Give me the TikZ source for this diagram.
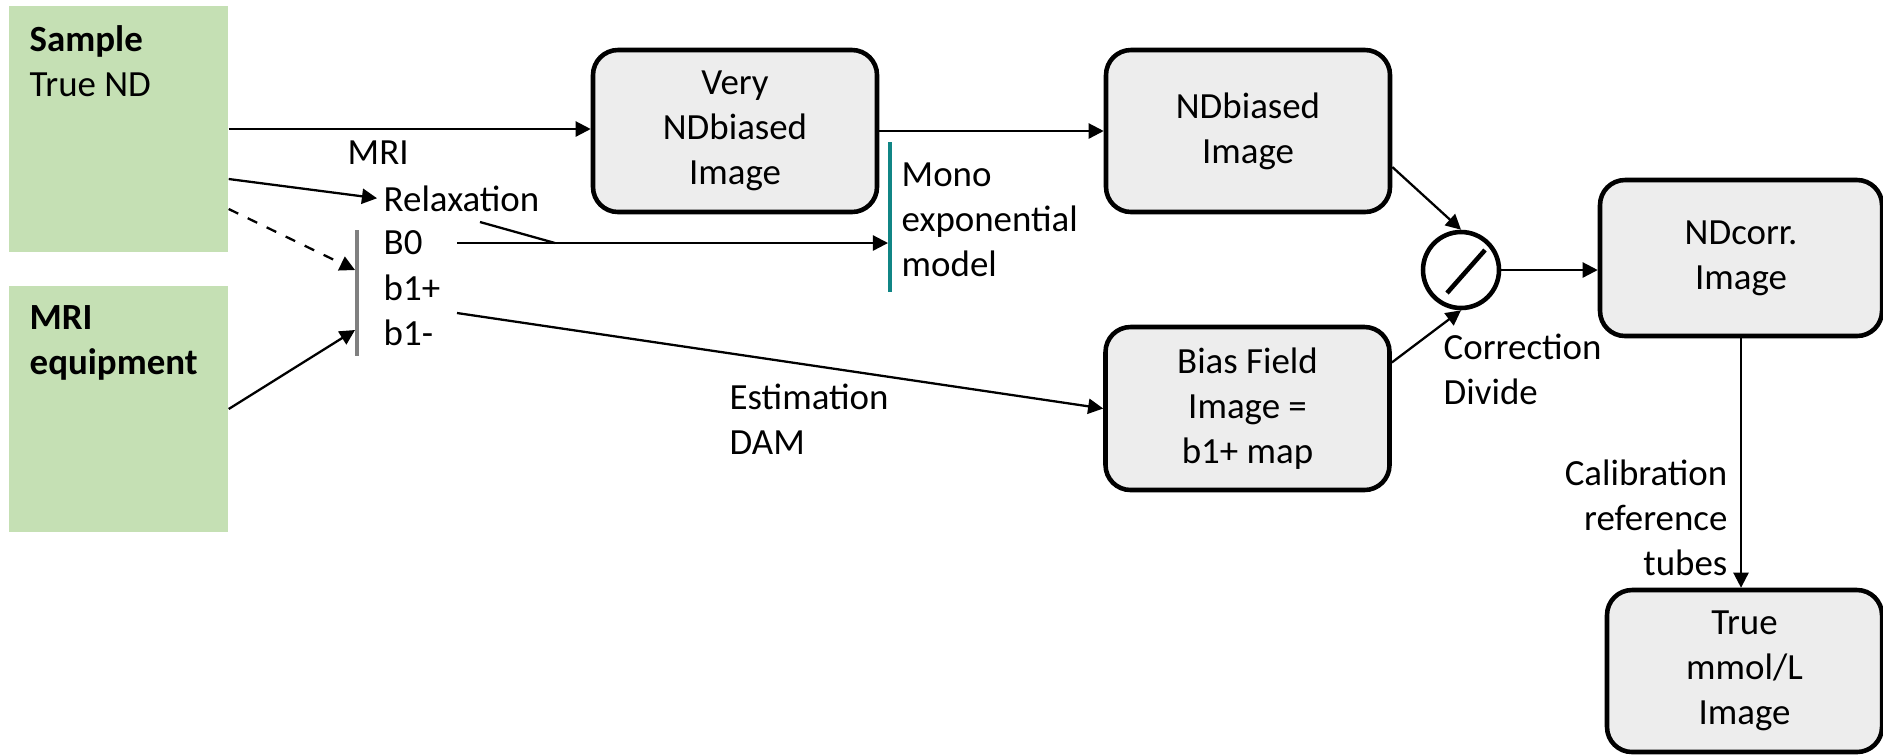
\documentclass[tikz,border=0pt]{standalone}
\usepackage{fontspec}
\setmainfont{Carlito}
\usetikzlibrary{arrows.meta}
\definecolor{srcgreen}{RGB}{197,224,180}
\definecolor{imggray}{RGB}{237,237,237}
\definecolor{bargray}{RGB}{128,128,128}
\definecolor{monoteal}{RGB}{16,133,133}

\begin{document}
\begin{tikzpicture}[
		every node/.style={font=\fontsize{10.5}{12.8}\selectfont, inner sep=0pt},
		srcbox/.style={rectangle, fill=srcgreen, minimum width=2.19cm, minimum height=2.46cm},
		imgbox/.style={rectangle, draw, rounded corners=0.25cm, line width=1.3pt, fill=imggray,
			minimum width=2.84cm, minimum height=1.62cm, align=center},
		lbl/.style={anchor=west, align=left},
		arr/.style={-{Triangle[length=4.3pt, width=4.3pt]}, line width=0.65pt}
	]
  \useasboundingbox (0cm, 0cm) rectangle (18.83cm, -7.55cm);
  \node (sample) [srcbox] at (1.185cm, -1.29cm) {};
  \node (sample_txt) [lbl] at (0.29cm, -0.61cm) {\textbf{Sample}\\True ND};
  \node (mriq) [srcbox] at (1.185cm, -4.09cm) {};
  \node (mriq_txt) [lbl] at (0.29cm, -3.43cm) {\textbf{MRI}\\\textbf{equipment}};
  \node (very) [imgbox] at (7.35cm, -1.31cm) {Very\\NDbiased\\Image\vphantom{p}};
  \node (ndb) [imgbox] at (12.48cm, -1.31cm) {NDbiased\\Image};
  \node (bias) [imgbox, minimum height=1.63cm] at (12.475cm, -4.085cm) {Bias Field\\Image =\\b1+ map};
  \node (ndc) [imgbox, minimum width=2.82cm, minimum height=1.56cm] at (17.41cm, -2.58cm) {NDcorr.\\Image};
  \node (tmm) [imgbox, minimum width=2.75cm] at (17.445cm, -6.71cm) {True\\mmol/L\\Image};
  \node (divc) [circle, draw, line width=1.3pt, minimum size=0.76cm] at (14.61cm, -2.70cm) {};
  \node (mri_lbl) [lbl] at (3.47cm, -1.53cm) {MRI};
  \node (relax) [lbl] at (3.83cm, -1.99cm) {Relaxation};
  \node (bzero) [lbl] at (3.83cm, -2.43cm) {B0};
  \node (bonep) [lbl] at (3.83cm, -2.88cm) {b1+};
  \node (bonem) [lbl] at (3.83cm, -3.33cm) {b1-};
  \node (mono) [lbl] at (9.01cm, -2.20cm) {Mono\\exponential\\model};
  \node (estim) [lbl] at (7.29cm, -4.19cm) {Estimation\\DAM};
  \node (corr) [lbl] at (14.43cm, -3.695cm) {Correction\\Divide};
  \node (calib) [anchor=east, align=right] at (17.28cm, -5.18cm) {Calibration\\reference\\tubes};
  \coordinate (bartop) at (3.57cm, -2.30cm);
  \coordinate (barbot) at (3.57cm, -3.56cm);
  \coordinate (bar_a) at (3.55cm, -2.70cm);
  \coordinate (bar_b) at (3.55cm, -3.30cm);
  \coordinate (monotop) at (8.90cm, -1.42cm);
  \coordinate (monobot) at (8.90cm, -2.92cm);
  \coordinate (mono_in) at (8.88cm, -2.43cm);
  \coordinate (b0_out) at (4.57cm, -2.43cm);
  \coordinate (rx_out) at (4.80cm, -2.22cm);
  \coordinate (rx_join) at (5.55cm, -2.43cm);
  \coordinate (bm_out) at (4.57cm, -3.13cm);
  \draw [bargray, line width=0.9pt] (bartop) -- (barbot);
  \draw [monoteal, line width=0.9pt] (monotop) -- (monobot);
  \draw [line width=1.3pt] ([shift={(-0.14cm, -0.23cm)}]divc.center) -- ([shift={(0.24cm, 0.20cm)}]divc.center);
  \draw [arr] (sample.east) -- (sample.east -| very.west);
  \draw [arr, shorten >=0.06cm] ([yshift=-0.5cm]sample.east) -- (relax.west);
  \draw [arr, dashed] ([yshift=-0.8cm]sample.east) -- (bar_a);
  \draw [arr] (mriq.east) -- (bar_b);
  \draw [line width=0.65pt] (rx_out) -- (rx_join);
  \draw [arr] (b0_out) -- (mono_in);
  \draw [arr] (bm_out) -- (bias.west);
  \draw [arr] (very.east) -- (ndb.west);
  \draw [arr] ([yshift=-0.36cm]ndb.east) -- (divc.north);
  \draw [arr] ([yshift=0.46cm]bias.east) -- (divc.south);
  \draw [arr] (divc.east) -- (divc.east -| ndc.west);
  \draw [arr] (ndc.south) -- (ndc.south |- tmm.north);
\end{tikzpicture}
\end{document}
